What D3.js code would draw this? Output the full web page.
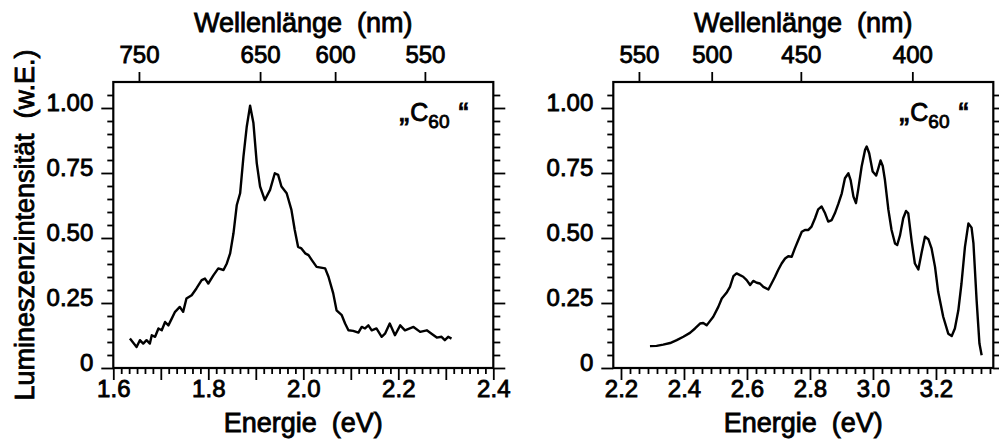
<!DOCTYPE html>
<html>
<head>
<meta charset="utf-8">
<script src="https://cdn.jsdelivr.net/npm/d3@7"></script>
<style>
body { margin: 0; background: #fff; }
svg { display: block; font-family: "Liberation Sans", Arial, Helvetica, sans-serif; }
svg text { fill: #000; stroke: #000; stroke-width: 0.85px; }
</style>
</head>
<body>
<div id="chart"></div>
<script>
// left panel spectrum (energy in eV, intensity in arb. units)
var leftEnergy = [1.635, 1.649, 1.656, 1.663, 1.670, 1.677, 1.681, 1.688, 1.695, 1.702, 1.709, 1.716, 1.723, 1.730, 1.740, 1.747,
  1.754, 1.765, 1.775, 1.786, 1.793, 1.800, 1.811, 1.821, 1.832, 1.839, 1.846, 1.853, 1.860, 1.867, 1.874, 1.881, 1.888,
  1.895, 1.902, 1.909, 1.919, 1.930, 1.940, 1.947, 1.954, 1.965, 1.975, 1.982, 1.989, 1.996, 2.004, 2.011, 2.018, 2.028,
  2.046, 2.053, 2.063, 2.070, 2.081, 2.088, 2.095, 2.105, 2.116, 2.123, 2.130, 2.137, 2.144, 2.154, 2.165, 2.172, 2.182,
  2.193, 2.204, 2.214, 2.232, 2.246, 2.260, 2.270, 2.281, 2.291, 2.298, 2.305, 2.312];
var leftIntensity = [0.113, 0.081, 0.107, 0.094, 0.107, 0.094, 0.126, 0.120, 0.152, 0.145, 0.177, 0.164, 0.190, 0.216, 0.235, 0.216,
  0.267, 0.280, 0.306, 0.338, 0.344, 0.325, 0.357, 0.383, 0.377, 0.402, 0.441, 0.518, 0.627, 0.672, 0.813, 0.929, 1.009,
  0.942, 0.788, 0.698, 0.646, 0.685, 0.749, 0.743, 0.698, 0.672, 0.608, 0.531, 0.466, 0.460, 0.441, 0.434, 0.415, 0.389,
  0.383, 0.351, 0.287, 0.222, 0.203, 0.171, 0.145, 0.143, 0.136, 0.158, 0.152, 0.164, 0.145, 0.152, 0.120, 0.132, 0.171,
  0.126, 0.164, 0.145, 0.158, 0.139, 0.145, 0.132, 0.117, 0.120, 0.107, 0.120, 0.113];

// right panel spectrum
var rightEnergy = [2.292, 2.313, 2.334, 2.356, 2.377, 2.398, 2.419, 2.435, 2.451, 2.461, 2.472, 2.493, 2.509, 2.520, 2.535, 2.546,
  2.557, 2.567, 2.578, 2.588, 2.599, 2.610, 2.620, 2.631, 2.641, 2.652, 2.668, 2.678, 2.689, 2.699, 2.710, 2.721, 2.731,
  2.742, 2.752, 2.763, 2.774, 2.784, 2.795, 2.805, 2.816, 2.826, 2.837, 2.848, 2.858, 2.869, 2.879, 2.890, 2.901, 2.911,
  2.922, 2.929, 2.938, 2.946, 2.953, 2.964, 2.975, 2.980, 2.988, 2.999, 3.010, 3.017, 3.024, 3.031, 3.038, 3.049, 3.059,
  3.070, 3.077, 3.086, 3.096, 3.105, 3.112, 3.123, 3.133, 3.144, 3.154, 3.165, 3.176, 3.186, 3.197, 3.207, 3.223, 3.239,
  3.250, 3.260, 3.271, 3.281, 3.292, 3.303, 3.313, 3.319, 3.329, 3.338, 3.345];
var rightIntensity = [0.084, 0.085, 0.090, 0.096, 0.107, 0.120, 0.135, 0.152, 0.171, 0.173, 0.164, 0.197, 0.235, 0.267, 0.289, 0.312,
  0.353, 0.364, 0.357, 0.351, 0.338, 0.319, 0.335, 0.328, 0.325, 0.312, 0.302, 0.325, 0.351, 0.377, 0.402, 0.421, 0.430,
  0.428, 0.460, 0.492, 0.524, 0.531, 0.531, 0.544, 0.576, 0.610, 0.621, 0.595, 0.563, 0.569, 0.595, 0.631, 0.672, 0.730,
  0.749, 0.723, 0.659, 0.634, 0.685, 0.775, 0.839, 0.852, 0.826, 0.756, 0.740, 0.768, 0.798, 0.777, 0.723, 0.608, 0.531,
  0.479, 0.473, 0.511, 0.576, 0.604, 0.595, 0.486, 0.402, 0.379, 0.441, 0.505, 0.495, 0.460, 0.389, 0.293, 0.197, 0.132,
  0.123, 0.152, 0.222, 0.325, 0.466, 0.556, 0.540, 0.479, 0.261, 0.094, 0.049];

// wavelength axis labels and where they sit on the energy axis
var leftNm = ["750", "650", "600", "550"];
var leftNmAt = [1.654, 1.909, 2.067, 2.256];
var rightNm = ["550", "500", "450", "400"];
var rightNmAt = [2.257, 2.488, 2.771, 3.125];

var yMajor = [0, 0.25, 0.5, 0.75, 1.0];

var svg = d3.select("#chart")
            .append("svg")
            .attr("width", 999)
            .attr("height", 447);

var top0 = 82, bottom0 = 368;

var y = d3.scaleLinear()
          .domain([0, 1.1])
          .range([bottom0, top0]);

var yMinor = d3.range(0, 22).map(i => i * 0.05).filter((d, i) => i % 5 != 0);

function styleAxis(sel, size) {
  sel.attr("font-size", size).attr("font-family", null);
  sel.select(".domain").remove();
  sel.selectAll(".tick line").attr("stroke", "#000").attr("stroke-width", 1.8);
  sel.selectAll(".tick text").attr("fill", "#000");
}

function drawPanel(p) {
  var x = d3.scaleLinear()
            .domain(p.domain)
            .range([p.left, p.left + 380]);
  var g = svg.append("g");

  // bottom energy axis
  g.append("g")
   .attr("transform", "translate(0," + bottom0 + ")")
   .call(d3.axisBottom(x).tickValues(p.minorX).tickSize(6).tickFormat(""))
   .call(styleAxis, 24);
  g.append("g")
   .attr("transform", "translate(0," + bottom0 + ")")
   .call(d3.axisBottom(x).tickValues(p.majorX).tickSize(12).tickPadding(0)
           .tickFormat(d => p.labelX(d) ? d3.format(".1f")(d) : ""))
   .call(styleAxis, 24);

  // top wavelength axis
  g.append("g")
   .attr("transform", "translate(0," + top0 + ")")
   .call(d3.axisTop(x).tickValues(p.nmAt).tickSize(10).tickPadding(9)
           .tickFormat((d, i) => p.nm[i]))
   .call(styleAxis, 24);

  // left and right intensity ticks
  g.append("g")
   .attr("transform", "translate(" + p.left + ",0)")
   .call(d3.axisLeft(y).tickValues(yMinor).tickSize(6).tickFormat(""))
   .call(styleAxis, 24);
  g.append("g")
   .attr("transform", "translate(" + p.left + ",0)")
   .call(d3.axisLeft(y).tickValues(yMajor).tickSize(12).tickPadding(8)
           .tickFormat(d => d == 0 ? "0" : d3.format(".2f")(d)))
   .call(styleAxis, 24)
   .selectAll(".tick text").attr("dy", "0.1em");
  g.append("g")
   .attr("transform", "translate(" + (p.left + 380) + ",0)")
   .call(d3.axisRight(y).tickValues(yMinor).tickSize(7).tickFormat(""))
   .call(styleAxis, 24);
  g.append("g")
   .attr("transform", "translate(" + (p.left + 380) + ",0)")
   .call(d3.axisRight(y).tickValues(yMajor).tickSize(12).tickFormat(""))
   .call(styleAxis, 24);

  // frame
  g.append("rect")
   .attr("x", p.left).attr("y", top0)
   .attr("width", 380).attr("height", bottom0 - top0)
   .attr("fill", "none").attr("stroke", "#000").attr("stroke-width", 2.2);

  var line = d3.line()
               .x(d => x(d[0]))
               .y(d => y(d[1]));
  g.append("path")
   .datum(d3.zip(p.energy, p.intensity))
   .attr("d", line)
   .attr("fill", "none")
   .attr("stroke", "#000")
   .attr("stroke-width", 2.4)
   .attr("stroke-linejoin", "round");

  // axis titles
  g.append("text")
   .attr("x", p.left + 190).attr("y", 32)
   .attr("text-anchor", "middle").attr("font-size", 27)
   .text("Wellenlänge\u00a0\u00a0(nm)");
  g.append("text")
   .attr("x", p.left + 190).attr("y", 432)
   .attr("text-anchor", "middle").attr("font-size", 27)
   .text("Energie\u00a0\u00a0(eV)");

  // sample label
  var lab = g.append("text")
             .attr("x", p.left + 286).attr("y", 121)
             .attr("font-size", 25);
  lab.append("tspan").attr("font-size", 30).text("\u201e");
  lab.append("tspan").attr("dx", 1).text("C");
  lab.append("tspan").attr("font-size", 19).attr("dy", 7).text("60");
  lab.append("tspan").attr("font-size", 30).attr("dy", -5).attr("dx", 9).text("\u201c");
}

var leftMinor = d3.range(0, 49).filter(i => i % 6 != 0).map(i => 1.6 + i / 60);
var leftMajor = d3.range(16, 25).map(d => d / 10);

var rightMajor = d3.range(11, 17).map(d => d / 5);
var rightMinor = d3.range(0, 42).filter(i => i % 7 != 0).map(i => 2.2 + i * 0.2 / 7);

drawPanel({
  left: 113.3, domain: [1.6, 2.4],
  energy: leftEnergy, intensity: leftIntensity,
  nm: leftNm, nmAt: leftNmAt,
  majorX: leftMajor, minorX: leftMinor,
  labelX: d => Math.round(d * 10) % 2 == 0
});

drawPanel({
  left: 613.3, domain: [2.1756, 3.382],
  energy: rightEnergy, intensity: rightIntensity,
  nm: rightNm, nmAt: rightNmAt,
  majorX: rightMajor, minorX: rightMinor.filter(d => d < 3.382),
  labelX: d => true
});

// y axis title (left panel only)
svg.append("text")
   .attr("transform", "translate(34,225) rotate(-90)")
   .attr("text-anchor", "middle")
   .attr("font-size", 27)
   .text("Lumineszenzintensität\u00a0\u00a0(w.E.)");
</script>
</body>
</html>
